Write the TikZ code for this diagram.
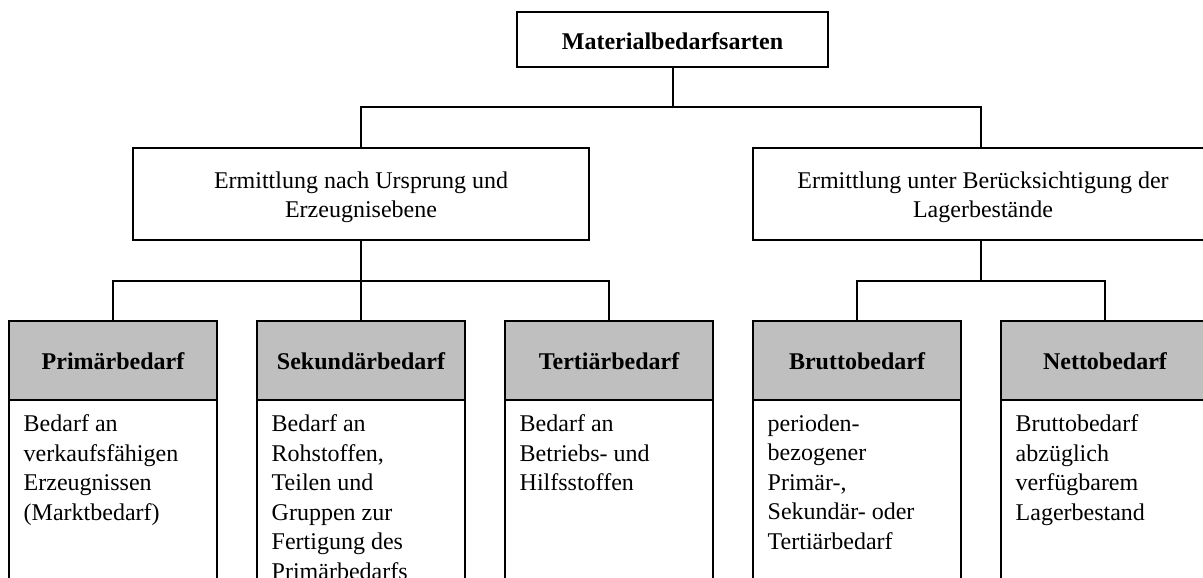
\documentclass[tikz,border=0pt]{standalone}
\usepackage{fontspec}
\setmainfont{Liberation Serif}
\definecolor{headgray}{RGB}{191,191,191}
\begin{document}
\begin{tikzpicture}[x=1pt,y=-1pt,
  every node/.style={font=\fontsize{24}{29.5}\selectfont},
  frame/.style={draw, line width=2pt, inner sep=0pt, fill=white},
  topbox/.style={frame, minimum width=311pt, minimum height=55pt,
    font=\fontsize{24}{29.5}\selectfont\bfseries, text height=22pt, text depth=1pt},
  midbox/.style={frame, minimum width=456pt, minimum height=92pt},
  midtext/.style={align=center, inner sep=0pt},
  headbox/.style={frame, fill=headgray, minimum width=208pt, minimum height=79pt,
    font=\fontsize{24}{29.5}\selectfont\bfseries, text height=20pt, text depth=3pt},
  bodybox/.style={frame, minimum width=208pt, minimum height=240pt},
  bodytext/.style={align=left, inner sep=0pt, anchor=north west},
  link/.style={draw, line width=2pt}]

\useasboundingbox (0,0) rectangle (1203,578);
\clip (0,0) rectangle (1203,578);

% top level
\node[topbox] (root) at (672.5,39.5) {Materialbedarfsarten};

% second level
\node[midbox] (ursprung) at (361,194) {};
\node[midtext] (ursprungtxt) at (361,197.4) {Ermittlung nach Ursprung und\\Erzeugnisebene};
\node[midbox] (lager) at (981,194) {};
\node[midtext] (lagertxt) at (983,197.4) {Ermittlung unter Berücksichtigung der\\Lagerbestände};

% third level: gray heading and description below
\foreach \name/\cx/\head in {prim/113/Primärbedarf, sek/361/Sekundärbedarf,
    tert/609/Tertiärbedarf, brutto/857/Bruttobedarf, netto/1105/Nettobedarf}{
  \node[bodybox] (\name body) at (\cx,520) {};
  \node[headbox] (\name) at (\cx,360.5) {\head};
}

\node[bodytext] (primtxt) at ([xshift=15.5pt,yshift=-15.5pt]primbody.north west)
  {Bedarf an\\verkaufsfähigen\\Erzeugnissen\\(Marktbedarf)};
\node[bodytext] (sektxt) at ([xshift=15.5pt,yshift=-15.5pt]sekbody.north west)
  {Bedarf an\\Rohstoffen,\\Teilen und\\Gruppen zur\\Fertigung des\\Primärbedarfs};
\node[bodytext] (terttxt) at ([xshift=15.5pt,yshift=-15.5pt]tertbody.north west)
  {Bedarf an\\Betriebs- und\\Hilfsstoffen};
\node[bodytext] (bruttotxt) at ([xshift=15.5pt,yshift=-15.5pt]bruttobody.north west)
  {perioden-\\bezogener\\Primär-,\\Sekundär- oder\\Tertiärbedarf};
\node[bodytext] (nettotxt) at ([xshift=15.5pt,yshift=-15.5pt]nettobody.north west)
  {Bruttobedarf\\abzüglich\\verfügbarem\\Lagerbestand};

% connectors
\coordinate (j1) at (root.south |- 0,107);
\coordinate (j2) at (ursprung.south |- 0,281);
\coordinate (j3) at (lager.south |- 0,281);

\path[link] (root.south) -- (j1);
\path[link] (ursprung.north) |- (j1) -| (lager.north);

\path[link] (ursprung.south) -- (sek.north);
\path[link] (prim.north) |- (j2) -| (tert.north);

\path[link] (lager.south) -- (j3);
\path[link] (brutto.north) |- (j3) -| (netto.north);
\end{tikzpicture}
\end{document}
